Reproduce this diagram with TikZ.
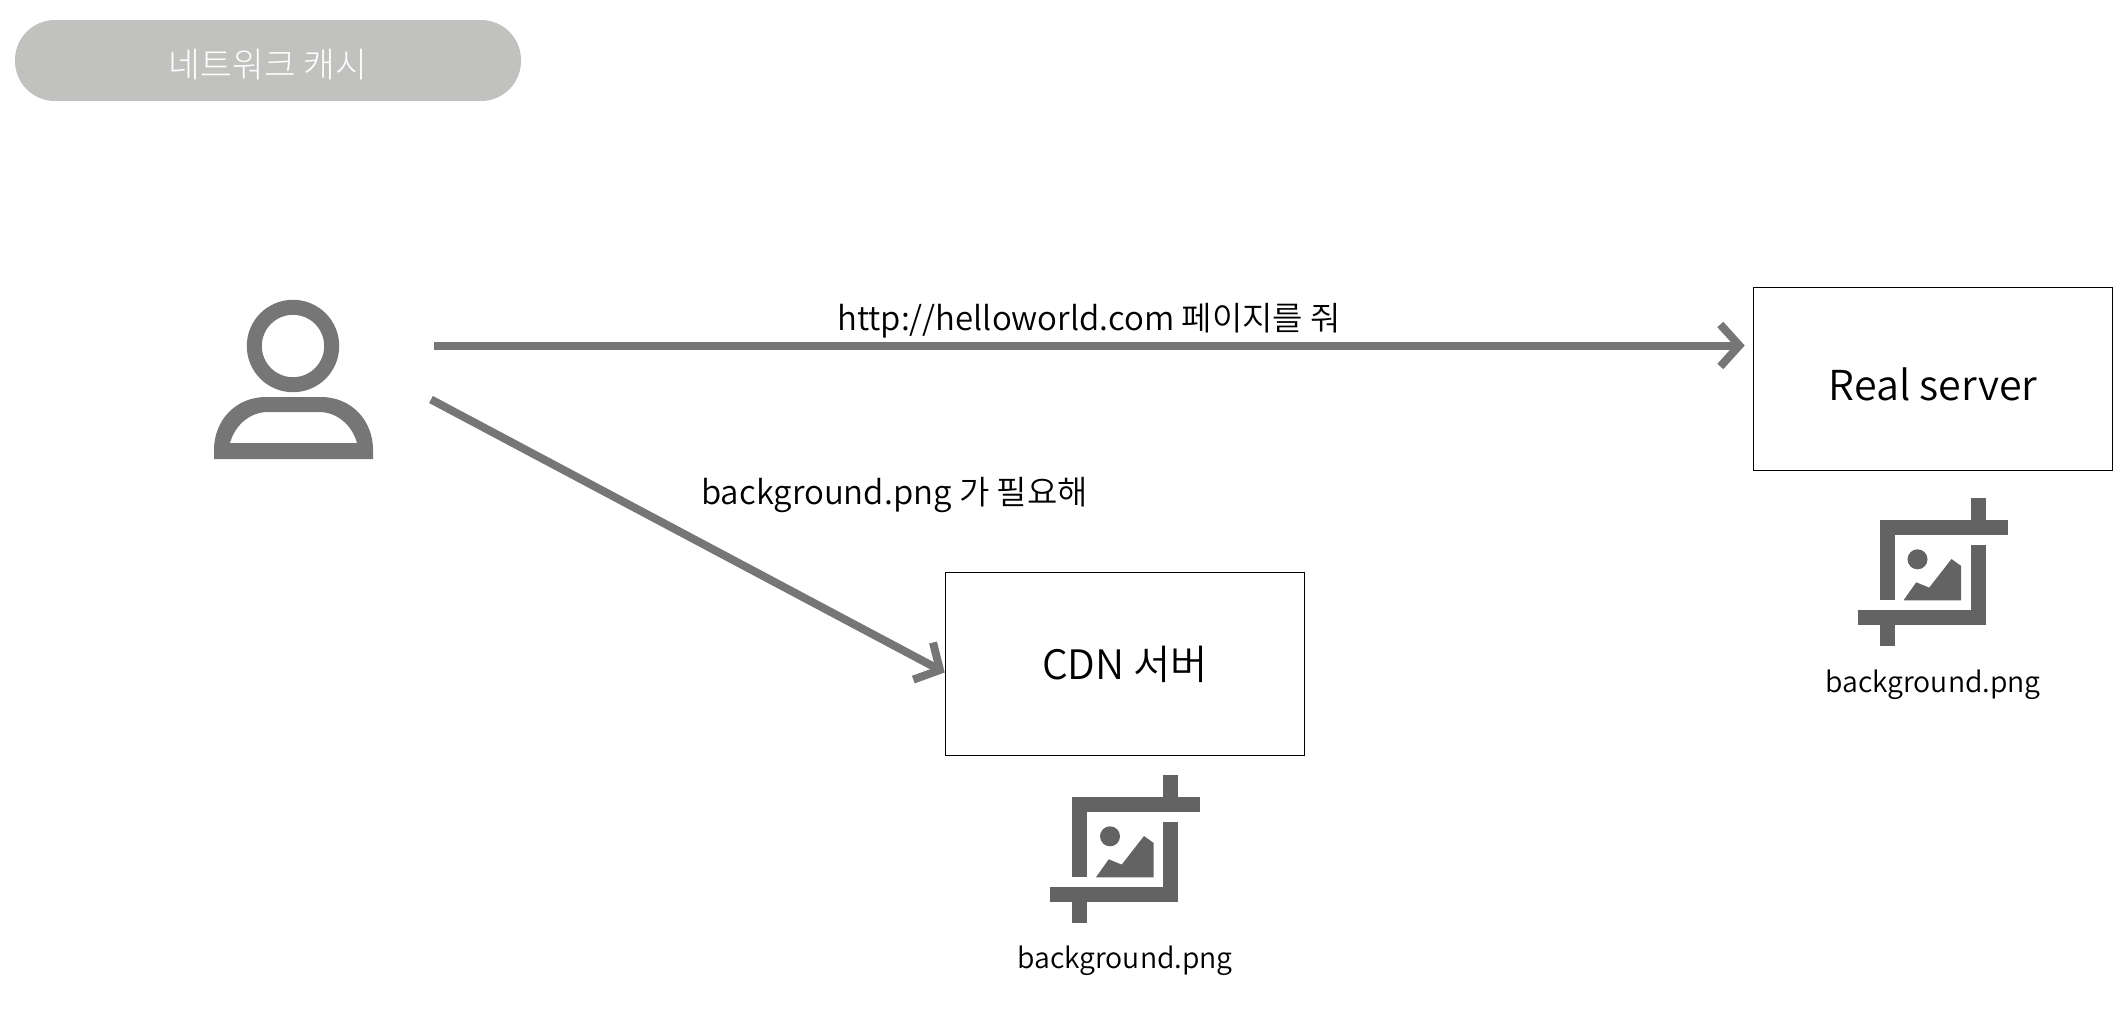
\documentclass[tikz,border=0pt]{standalone}
\usepackage{fontspec}
\setmainfont{Noto Sans CJK KR DemiLight}
\newfontfamily\lightkr{Noto Sans CJK KR Light}
\usetikzlibrary{arrows.meta,calc}
\definecolor{pillgray}{HTML}{C1C1BF}
\definecolor{usergray}{HTML}{767676}
\definecolor{icongray}{HTML}{636363}
\tikzset{
  x=1pt,y=-1pt,
  boxnode/.style={draw=black,line width=1.6pt,minimum width=359pt,minimum height=183pt,inner sep=0pt,font=\fontsize{40.5}{40.5}\selectfont},
  lbl/.style={inner sep=0pt,text=black,font=\fontsize{33}{33}\selectfont},
  filecap/.style={inner sep=0pt,text=black,font=\fontsize{28.4}{28.4}\selectfont},
  flow/.style={draw=usergray,line width=8pt,-{Straight Barb[length=19pt,width=42pt,line width=8pt]}},
  pics/cropicon/.style={code={
    \fill[icongray] (-52.7,-67) rectangle (-38,13);
    \fill[icongray] (-52.7,-67) rectangle (75.3,-52);
    \fill[icongray] (38.3,-89) rectangle (53,-52);
    \fill[icongray] (38.3,-42) rectangle (53,37);
    \fill[icongray] (-74.7,22.7) rectangle (53,37.4);
    \fill[icongray] (-52.7,22.7) rectangle (-38,59);
    \fill[icongray] (-15,-28) circle[radius=10];
    \fill[icongray] (-29,13) -- (-16.3,-5) -- (-3.3,0.3) -- (19,-28.3) -- (28.7,-21.3) -- (28.7,13) -- cycle;
  }}
}
\begin{document}
\begin{tikzpicture}
\useasboundingbox (0,0) rectangle (2128,1028);
\fill[white] (0,0) rectangle (2128,1028);
\node[fill=pillgray,rounded corners=40pt,minimum width=506pt,minimum height=81pt,inner sep=0pt] (title) at (268,60.5) {};
\node[inner sep=0pt,text=white,font=\lightkr\fontsize{34.5}{34.5}\selectfont] (titletext) at (268,64.5) {네트워크 캐시};

% user icon
\node[minimum width=159pt,minimum height=150pt,inner sep=0pt] (user) at (293.5,384) {};
\draw[usergray,line width=15pt] (293,346) circle[radius=38.7];
\fill[usergray,even odd rule] (214,459) -- (214,450) .. controls (214,420) and (236,397) .. (266,397) -- (321,397) .. controls (351,397) and (373,420) .. (373,450) -- (373,459) -- cycle
  (230,443) .. controls (235,425) and (250,412) .. (268,412) -- (319,412) .. controls (337,412) and (352,425) .. (357,443) -- cycle;

% boxes
\node[boxnode] (server) at (1933,379) {};
\node[boxnode] (cdn) at (1125,664) {CDN 서버};
\node[inner sep=0pt,text=black,font=\fontsize{41.2}{41.2}\selectfont] (servertext) at (1933,384) {Real server};

% icons
\pic at (1125,864.3) {cropicon};
\pic at (1932.5,587.3) {cropicon};

\node[filecap] (cap1) at (1125,961) {background.png};
\node[filecap] (cap2) at (1933,685) {background.png};

\node[lbl] (lab1) at (1089,321) {http://helloworld.com 페이지를 줘};
\node[lbl] (lab2) at (894.5,495) {background.png 가 필요해};

% connectors
\coordinate (u1) at (434,345.5);
\coordinate (u2) at (431,399.5);
\draw[flow,shorten >=8pt] (u1) -- (server.west |- u1);
\draw[flow] (u2) -- ($(cdn.west)+(0,8.5)$);
\end{tikzpicture}
\end{document}
